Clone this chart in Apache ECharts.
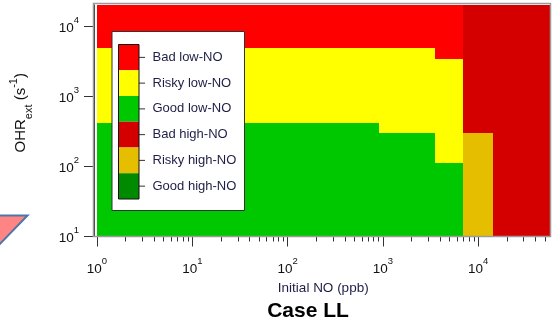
<!DOCTYPE html>
<html>
<head>
<meta charset="utf-8">
<script src="https://cdn.jsdelivr.net/npm/echarts@6/dist/echarts.min.js"></script>
<style>
html, body { margin: 0; padding: 0; background: #fff; }
#chart { width: 552px; height: 328px; }
</style>
</head>
<body>
<div id="chart"></div>
<script>
// Chemical regime map: OH reactivity (OHRext) against initial NO.
// Each NO band is split into good / risky / bad zones by two OHR limits.
const noEdges = [1, 900, 3500, 7000, 14300, 56000];   // ppb, band edges along x
const goodTop = [420, 300, 110, 10, 10];               // s^-1, upper limit of the "good" zone
const riskyTop = [4900, 4900, 3400, 300, 10];          // s^-1, upper limit of the "risky" zone
const regime = ['low', 'low', 'low', 'high', 'high'];  // NO regime of each band
const ohrMin = 10;
const ohrMax = 20000;

const zoneNames = ['Bad low-NO', 'Risky low-NO', 'Good low-NO', 'Bad high-NO', 'Risky high-NO', 'Good high-NO'];
const zoneColors = ['#FF0000', '#FFFF00', '#00C800', '#D40000', '#E6BE00', '#008A00'];

const xMajorTicks = [1, 10, 100, 1000, 10000];
const yMajorTicks = [10, 100, 1000, 10000];
// log-axis minor ticks at 2..9 of every decade
const xMinorTicks = [];
for (let d = 1; d <= 10000; d *= 10) {
  for (let m = 2; m <= 9; m++) {
    if (d * m <= noEdges[noEdges.length - 1]) xMinorTicks.push(d * m);
  }
}

// rectangles [x0, x1, y0, y1, zoneIndex]
const cells = [];
for (let i = 0; i < regime.length; i++) {
  const off = regime[i] === 'low' ? 0 : 3;
  const x0 = noEdges[i], x1 = noEdges[i + 1];
  cells.push([x0, x1, ohrMin, goodTop[i], off + 2]);
  cells.push([x0, x1, goodTop[i], riskyTop[i], off + 1]);
  cells.push([x0, x1, riskyTop[i], ohrMax, off + 0]);
}

const FONT = '"Liberation Sans", Arial, sans-serif';
const LABEL_COLOR = '#1e1e46';

function powLabel(v) {
  const e = Math.round(Math.log10(v));
  return '{b|10}{s|' + e + '}';
}
const powRich = {
  b: { fontSize: 13.5, fontFamily: FONT, color: '#111', lineHeight: 26 },
  s: { fontSize: 9.5, fontFamily: FONT, color: '#111', lineHeight: 9, verticalAlign: 'top' }
};

// legend box: colour bar with one label per zone
const lgX = 112, lgY = 31.5, lgW = 132.5, lgH = 179;
const barX = lgX + 6.5, barY = lgY + 13, barW = 20.5, barH = 154.5;
const segH = barH / zoneNames.length;
const legendElements = [
  { type: 'rect', z: 20, silent: true, shape: { x: lgX, y: lgY, width: lgW, height: lgH },
    style: { fill: '#fff', stroke: '#333', lineWidth: 1 } }
];
zoneNames.forEach(function (name, i) {
  const cy = barY + segH * (i + 0.5);
  legendElements.push({ type: 'rect', z: 21, silent: true,
    shape: { x: barX, y: barY + segH * i, width: barW, height: segH },
    style: { fill: zoneColors[i] } });
  legendElements.push({ type: 'line', z: 21, silent: true,
    shape: { x1: barX + barW, y1: cy, x2: barX + barW + 6, y2: cy },
    style: { stroke: '#333', lineWidth: 1 } });
  legendElements.push({ type: 'text', z: 21, silent: true, x: barX + barW + 13.5, y: cy,
    style: { text: name, font: '13px ' + FONT, fill: LABEL_COLOR, verticalAlign: 'middle', align: 'left' } });
});
legendElements.push({ type: 'rect', z: 22, silent: true,
  shape: { x: barX, y: barY, width: barW, height: barH },
  style: { fill: 'none', stroke: '#111', lineWidth: 1 } });

const chart = echarts.init(document.getElementById('chart'), null, { renderer: 'canvas' });
chart.setOption({
  animation: false,
  backgroundColor: '#fff',
  grid: { left: 96, top: 5, right: 2.5, bottom: 91.5, containLabel: false },
  xAxis: [
    {
      type: 'log', logBase: 10, min: noEdges[0], max: noEdges[noEdges.length - 1],
      position: 'bottom', offset: 0,
      axisLine: { show: true, lineStyle: { color: '#333', width: 1 } },
      axisTick: { show: true, inside: false, length: 10, customValues: xMajorTicks, lineStyle: { color: '#333' } },
      axisLabel: { customValues: xMajorTicks, formatter: powLabel, rich: powRich, margin: 20 },
      splitLine: { show: false },
      minorTick: { show: false },
      name: 'Initial NO (ppb)', nameLocation: 'middle', nameGap: 37,
      nameTextStyle: { fontFamily: FONT, fontSize: 13.5, color: LABEL_COLOR }
    },
    {
      type: 'log', logBase: 10, min: noEdges[0], max: noEdges[noEdges.length - 1],
      position: 'bottom', offset: 0,
      axisLine: { show: false },
      axisTick: { show: true, inside: false, length: 5, customValues: xMinorTicks, lineStyle: { color: '#333' } },
      axisLabel: { show: false },
      splitLine: { show: false }
    }
  ],
  yAxis: {
    type: 'log', logBase: 10, min: ohrMin, max: ohrMax,
    position: 'left', offset: 3,
    axisLine: { show: true, lineStyle: { color: '#333', width: 1 } },
    axisTick: { show: true, inside: false, length: 10, customValues: yMajorTicks, lineStyle: { color: '#333' } },
    axisLabel: { customValues: yMajorTicks, formatter: powLabel, rich: powRich, margin: 15, padding: [4, 0, 0, 0] },
    splitLine: { show: false },
    name: '{m|OHR}{sub|ext}{m| (s}{sup|-1}{m|)}',
    nameLocation: 'middle', nameRotate: 90, nameGap: 60,
    nameTextStyle: {
      padding: [0, 0, 0, 16],
      rich: {
        m: { fontSize: 15, fontFamily: FONT, color: '#111', lineHeight: 26 },
        sub: { fontSize: 11, fontFamily: FONT, color: '#111', lineHeight: 10, verticalAlign: 'bottom' },
        sup: { fontSize: 11, fontFamily: FONT, color: '#111', lineHeight: 10, verticalAlign: 'top' }
      }
    }
  },
  series: [{
    type: 'custom',
    coordinateSystem: 'cartesian2d',
    xAxisIndex: 0, yAxisIndex: 0,
    silent: true,
    data: cells,
    encode: { x: [0, 1], y: [2, 3] },
    renderItem: function (params, api) {
      const p0 = api.coord([api.value(0), api.value(2)]);
      const p1 = api.coord([api.value(1), api.value(3)]);
      // snap to whole pixels so neighbouring blocks meet without seams
      const x0 = Math.round(p0[0]), x1 = Math.round(p1[0]);
      const yb = Math.round(p0[1]), yt = Math.round(p1[1]);
      if (yb - yt <= 0) return null;
      return {
        type: 'rect',
        shape: { x: x0, y: yt, width: x1 - x0, height: yb - yt },
        style: { fill: zoneColors[api.value(4)], stroke: null }
      };
    }
  }],
  graphic: [
    { type: 'rect', z: 10, silent: true,
      shape: { x: 93.5, y: 3.5, width: 457, height: 233 },
      style: { fill: 'none', stroke: '#9a9a9a', lineWidth: 1.5 } }
  ].concat(legendElements).concat([
    { type: 'polygon', z: 5, silent: true,
      shape: { points: [[-2, 215.5], [27.5, 215.5], [-2, 246]] },
      style: { fill: '#FF8585', stroke: '#4A76A8', lineWidth: 2 } },
    { type: 'text', z: 5, silent: true, x: 308, y: 311,
      style: { text: 'Case LL', font: 'bold 21px ' + FONT, fill: '#000', align: 'center', verticalAlign: 'middle' } }
  ])
});
</script>
</body>
</html>
